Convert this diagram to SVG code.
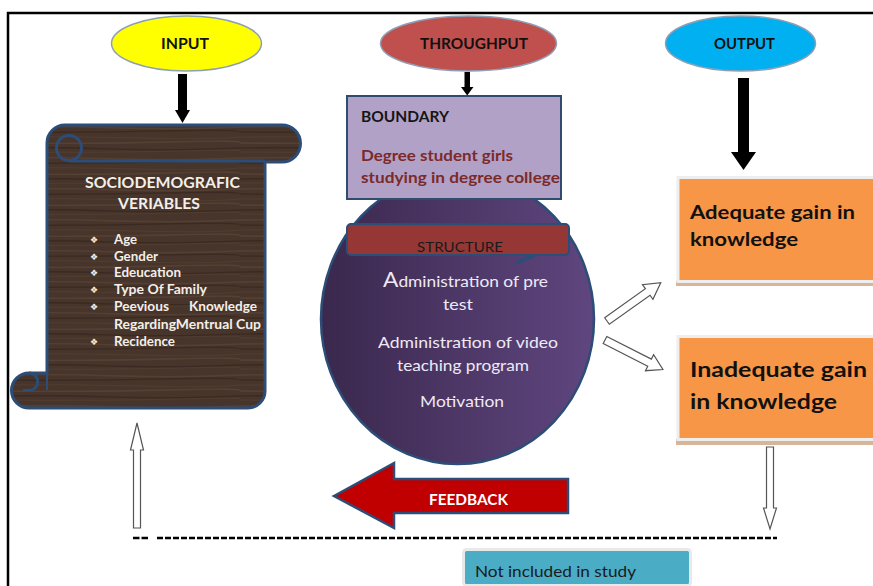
<svg xmlns="http://www.w3.org/2000/svg" width="873" height="586" viewBox="0 0 873 586">
<defs>
<style>
text{font-family:Lato,"Open Sans","Liberation Sans",sans-serif}
.ell{stroke:#8d9fb5;stroke-width:1.5}
.etxt{font-size:15px;font-weight:700;fill:#111;text-anchor:middle}
.scr{font-size:12.5px;font-weight:700;fill:#f3efe9}
.bul{font-family:"DejaVu Sans",sans-serif;font-size:9px;fill:#f3efe9}
.ctx{font-size:16px;fill:#eee9f5}
.blk{fill:#000}
.oarr{fill:#fff;stroke:#555;stroke-width:1.2}
.obox{fill:#f79646;stroke:#eeeeee;stroke-width:3}
.shad{fill:#d8b598}
.otx{font-weight:700;fill:#111}
</style>
<pattern id="wood" patternUnits="userSpaceOnUse" width="240" height="31">
<rect width="240" height="31" fill="#47342a"/>
<path d="M0 3 Q60 2 120 4 T240 3" stroke="#5e4838" stroke-width="1.4" fill="none" opacity=".6"/>
<path d="M0 8 Q80 9 160 7 T240 8" stroke="#36271d" stroke-width="1.5" fill="none" opacity=".7"/>
<path d="M0 13 Q70 12 140 14 T240 13" stroke="#574232" stroke-width="1" fill="none" opacity=".6"/>
<path d="M0 19 Q90 20 170 18 T240 19" stroke="#665040" stroke-width="1.3" fill="none" opacity=".45"/>
<path d="M0 24 Q50 23 110 25 T240 24" stroke="#36271c" stroke-width="1.6" fill="none" opacity=".7"/>
<path d="M0 28 Q100 29 180 27 T240 28" stroke="#5a4434" stroke-width="1" fill="none" opacity=".5"/>
</pattern>
<linearGradient id="purp" x1="0" y1="0" x2="1" y2="0">
<stop offset="0" stop-color="#3a284d"/>
<stop offset="1" stop-color="#5f467f"/>
</linearGradient>
</defs>
<rect width="873" height="586" fill="#fff"/>
<path d="M8 586 V13 H873" fill="none" stroke="#000" stroke-width="2.5"/>

<g id="input">
<ellipse class="ell" cx="186.5" cy="43.5" rx="75" ry="27.5" fill="#ffff00"/>
<text class="etxt" x="185" y="48.5" textLength="48" lengthAdjust="spacingAndGlyphs">INPUT</text>
</g>
<g id="throughput">
<ellipse class="ell" cx="468.5" cy="43.5" rx="88" ry="27.5" fill="#c0504d"/>
<text class="etxt" x="474" y="48.5" textLength="108" lengthAdjust="spacingAndGlyphs">THROUGHPUT</text>
</g>
<g id="output">
<ellipse class="ell" cx="740.5" cy="43.5" rx="75" ry="27.5" fill="#00b0f0"/>
<text class="etxt" x="744.5" y="48.5" textLength="61" lengthAdjust="spacingAndGlyphs">OUTPUT</text>
</g>

<g id="scroll">
<path d="M47 143 A18 18 0 0 1 65 125 L282 125 A18.5 18.5 0 0 1 282 162 L265 162 L265 391 A17 17 0 0 1 248 408 L29 408 A17.5 17.5 0 0 1 29 373 L47 373 Z" fill="url(#wood)" stroke="#2c4d77" stroke-width="3" stroke-linejoin="round"/>
<circle cx="69" cy="148" r="12.5" fill="none" stroke="#2c4d77" stroke-width="3"/>
<path d="M69 161 H265" fill="none" stroke="#2c4d77" stroke-width="3"/>
<path d="M29 373 A8.75 8.75 0 0 1 29 390.5 L23 390.5" fill="none" stroke="#2c4d77" stroke-width="3"/>
<path d="M47 373 V390" fill="none" stroke="#2c4d77" stroke-width="2"/>
<text x="85" y="188" font-size="14.5" font-weight="700" fill="#f3efe9" textLength="155" lengthAdjust="spacingAndGlyphs">SOCIODEMOGRAFIC</text>
<text x="118" y="209" font-size="14.5" font-weight="700" fill="#f3efe9" textLength="82" lengthAdjust="spacingAndGlyphs">VERIABLES</text>
<text class="bul" x="90" y="243">❖</text><text class="scr" x="114" y="244" textLength="23" lengthAdjust="spacingAndGlyphs">Age</text>
<text class="bul" x="90" y="260">❖</text><text class="scr" x="114" y="261" textLength="44" lengthAdjust="spacingAndGlyphs">Gender</text>
<text class="bul" x="90" y="276">❖</text><text class="scr" x="114" y="277" textLength="67" lengthAdjust="spacingAndGlyphs">Edeucation</text>
<text class="bul" x="90" y="293">❖</text><text class="scr" x="114" y="294" textLength="93" lengthAdjust="spacingAndGlyphs">Type Of Family</text>
<text class="bul" x="90" y="310">❖</text><text class="scr" x="114" y="311" textLength="55" lengthAdjust="spacingAndGlyphs">Peevious</text><text class="scr" x="189" y="311" textLength="68" lengthAdjust="spacingAndGlyphs">Knowledge</text>
<text class="scr" x="114" y="329" textLength="147" lengthAdjust="spacingAndGlyphs">RegardingMentrual  Cup</text>
<text class="bul" x="90" y="345">❖</text><text class="scr" x="114" y="346" textLength="61" lengthAdjust="spacingAndGlyphs">Recidence</text>
</g>

<g id="structure-circle">
<ellipse cx="457.5" cy="319" rx="136.5" ry="145" fill="url(#purp)" stroke="#2c4d77" stroke-width="2.5"/>
<text class="ctx" x="383" y="287" textLength="165" lengthAdjust="spacingAndGlyphs"><tspan font-size="21">A</tspan>dministration of pre</text>
<text class="ctx" x="443" y="310" textLength="30" lengthAdjust="spacingAndGlyphs">test</text>
<text class="ctx" x="378" y="348" textLength="180" lengthAdjust="spacingAndGlyphs">Administration of video</text>
<text class="ctx" x="397" y="371" textLength="132" lengthAdjust="spacingAndGlyphs">teaching program</text>
<text class="ctx" x="420" y="407" textLength="84" lengthAdjust="spacingAndGlyphs">Motivation</text>
</g>

<g id="boundary">
<rect x="347" y="96" width="214" height="103" fill="#b2a1c7" stroke="#2f4b6e" stroke-width="2"/>
<text x="361" y="122" font-size="15" font-weight="700" fill="#151515" textLength="88" lengthAdjust="spacingAndGlyphs">BOUNDARY</text>
<text x="361" y="161" font-size="15.5" font-weight="700" fill="#7b2a2a" textLength="152" lengthAdjust="spacingAndGlyphs">Degree student girls</text>
<text x="361" y="183" font-size="15.5" font-weight="700" fill="#7b2a2a" textLength="199" lengthAdjust="spacingAndGlyphs">studying in degree college</text>
</g>

<g id="structure">
<path d="M518 262 L533 256" stroke="#2c4d77" stroke-width="4" stroke-linecap="round"/>
<rect x="347" y="224" width="222" height="31" rx="4" fill="#953735" stroke="#2c4d77" stroke-width="2"/>
<text x="417" y="252" font-size="14" fill="#1a1a1a" textLength="86" lengthAdjust="spacingAndGlyphs">STRUCTURE</text>
</g>

<g id="adequate">
<rect class="shad" x="676" y="281" width="200" height="5"/>
<rect class="obox" x="678" y="177.5" width="200" height="104"/>
<text class="otx" x="690" y="219" font-size="19.5" textLength="165" lengthAdjust="spacingAndGlyphs">Adequate gain in</text>
<text class="otx" x="690" y="246" font-size="19.5" textLength="108" lengthAdjust="spacingAndGlyphs">knowledge</text>
</g>
<g id="inadequate">
<rect class="shad" x="676" y="439" width="200" height="6"/>
<rect class="obox" x="678" y="336.5" width="200" height="103"/>
<text class="otx" x="690" y="377" font-size="21.5" textLength="177" lengthAdjust="spacingAndGlyphs">Inadequate  gain</text>
<text class="otx" x="690" y="409" font-size="21.5" textLength="147" lengthAdjust="spacingAndGlyphs">in knowledge</text>
</g>

<g id="feedback">
<polygon points="334,496 394,463 394,479 568,479 568,513 394,513 394,528" fill="#c00000" stroke="#2c4d77" stroke-width="2.5" stroke-linejoin="miter"/>
<text x="429" y="505" font-size="15" font-weight="700" fill="#fff" textLength="79" lengthAdjust="spacingAndGlyphs">FEEDBACK</text>
</g>

<g id="not-included">
<rect x="463.5" y="549.5" width="227" height="36" rx="3" fill="#4bacc6" stroke="#e9e9e9" stroke-width="3"/>
<text x="475" y="577" font-size="15.5" fill="#1a1a1a" textLength="161" lengthAdjust="spacingAndGlyphs">Not included in study</text>
</g>

<g id="connectors">
<rect class="blk" x="178" y="74" width="9" height="38"/>
<polygon class="blk" points="175,110 190,110 182.5,123"/>
<rect class="blk" x="464.5" y="72" width="5.5" height="17"/>
<polygon class="blk" points="461,87 473.5,87 467.2,95.5"/>
<rect class="blk" x="738" y="78" width="11" height="76"/>
<polygon class="blk" points="731,152 756,152 743.5,170"/>
<polygon class="oarr" points="133.5,528 133.5,450 130.5,450 137,423 143.5,450 140.5,450 140.5,528"/>
<polygon class="oarr" points="766.5,447 773.5,447 773.5,508 776.5,508 770,529 763.5,508 766.5,508"/>
<polygon class="oarr" transform="translate(607,321) rotate(-35.5)" points="0,-4 50,-4 50,-9 66,0 50,9 50,4 0,4"/>
<polygon class="oarr" transform="translate(605,340) rotate(27)" points="0,-4 50,-4 50,-9 65,0 50,9 50,4 0,4"/>
<line x1="133" y1="538" x2="148" y2="538" stroke="#000" stroke-width="2.5" stroke-dasharray="6.5 2"/>
<line x1="157" y1="538" x2="777" y2="538" stroke="#000" stroke-width="2.5" stroke-dasharray="6 2"/>
</g>
</svg>
